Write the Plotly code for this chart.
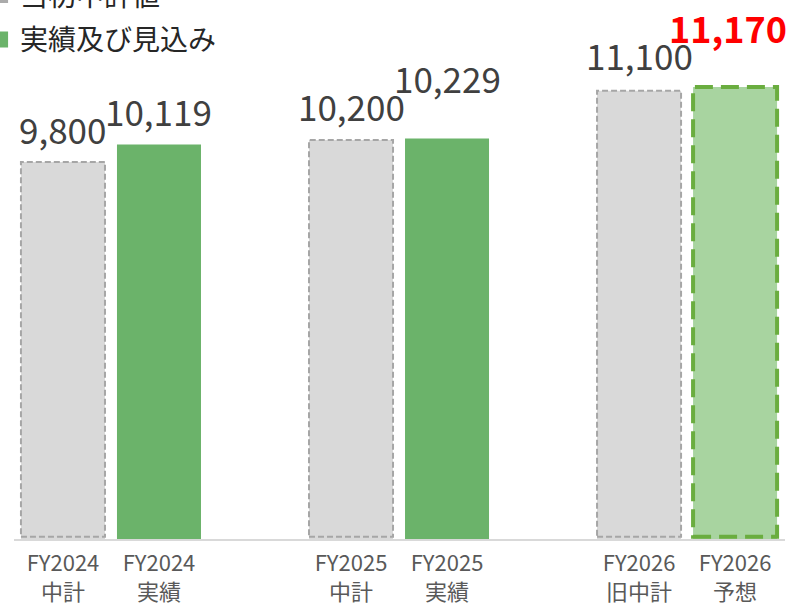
import plotly.graph_objects as go

# --- data ---
categories = ["FY2024<br>中計", "FY2024<br>実績", " ",
              "FY2025<br>中計", "FY2025<br>実績", "  ",
              "FY2026<br>旧中計", "FY2026<br>予想"]
values = [9800, 10119, None, 10200, 10229, None, 11100, 11170]
kinds = ["plan", "actual", None, "plan", "actual", None, "plan", "forecast"]
label_shift = [33, 34, 0, 35, 61, 0, 36, 60]
legend_names = ["当初中計値", "実績及び見込み"]

FONT = "Noto Sans CJK JP"
fill = {"plan": "#d9d9d9", "actual": "#6bb36a", "forecast": "#a8d4a0"}
edge = {"plan": ("#a6a6a6", 2, "6px,3px"), "forecast": ("#6aad3f", 4, "18px,8px")}
YMIN, YMAX = 2913, 12759
HALF = 0.4375

fig = go.Figure()
fig.add_trace(go.Bar(
    x=categories, y=values,
    marker=dict(color=[fill.get(k, "rgba(0,0,0,0)") for k in kinds], line_width=0),
    showlegend=False, hoverinfo="x+y",
))

# legend entries
fig.add_trace(go.Scatter(x=[None], y=[None], mode="markers", name=legend_names[0],
                         legendgroup="a",
                         marker=dict(symbol="square", size=16, color="#ababab")))
fig.add_trace(go.Scatter(x=[None], y=[None], mode="markers", name=legend_names[1],
                         legendgroup="b",
                         marker=dict(symbol="square", size=16, color="#6bb36a")))

for i, (v, k) in enumerate(zip(values, kinds)):
    if v is None:
        continue
    if k in edge:
        c, w, d = edge[k]
        fig.add_shape(type="rect", xref="x", yref="y",
                      x0=i - HALF, x1=i + HALF, y0=YMIN + 40, y1=v,
                      line=dict(color=c, width=w, dash=d), fillcolor="rgba(0,0,0,0)")
    red = k == "forecast"
    fig.add_annotation(
        x=categories[i], y=v, text=f"{v:,}", showarrow=False,
        yanchor="middle", yshift=label_shift[i], xshift=-7 if red else 0,
        font=dict(family=FONT, size=36 if red else 35,
                  color="#ff0000" if red else "#404040",
                  weight="bold" if red else "normal"),
    )

fig.update_layout(
    width=798, height=603,
    margin=dict(l=14, r=13, t=0, b=64, autoexpand=False),
    plot_bgcolor="white", paper_bgcolor="white",
    bargap=0.125,
    font=dict(family=FONT, color="#595959"),
    legend=dict(x=-0.044, y=1.055, xanchor="left", yanchor="top",
                font=dict(size=28, color="#262626"), bgcolor="rgba(0,0,0,0)",
                tracegroupgap=5, itemsizing="trace"),
    xaxis=dict(type="category", categoryorder="array", categoryarray=categories,
               range=[-0.51, 7.52], showline=True, linecolor="#d9d9d9", linewidth=2,
               showgrid=False, ticks="", ticklabelstandoff=4,
               tickfont=dict(size=22, color="#595959")),
    yaxis=dict(range=[YMIN, YMAX], visible=False, showgrid=False, zeroline=False),
)

fig.write_html("out.html", config={"displayModeBar": False},
               post_script="document.body.style.margin='0';")
